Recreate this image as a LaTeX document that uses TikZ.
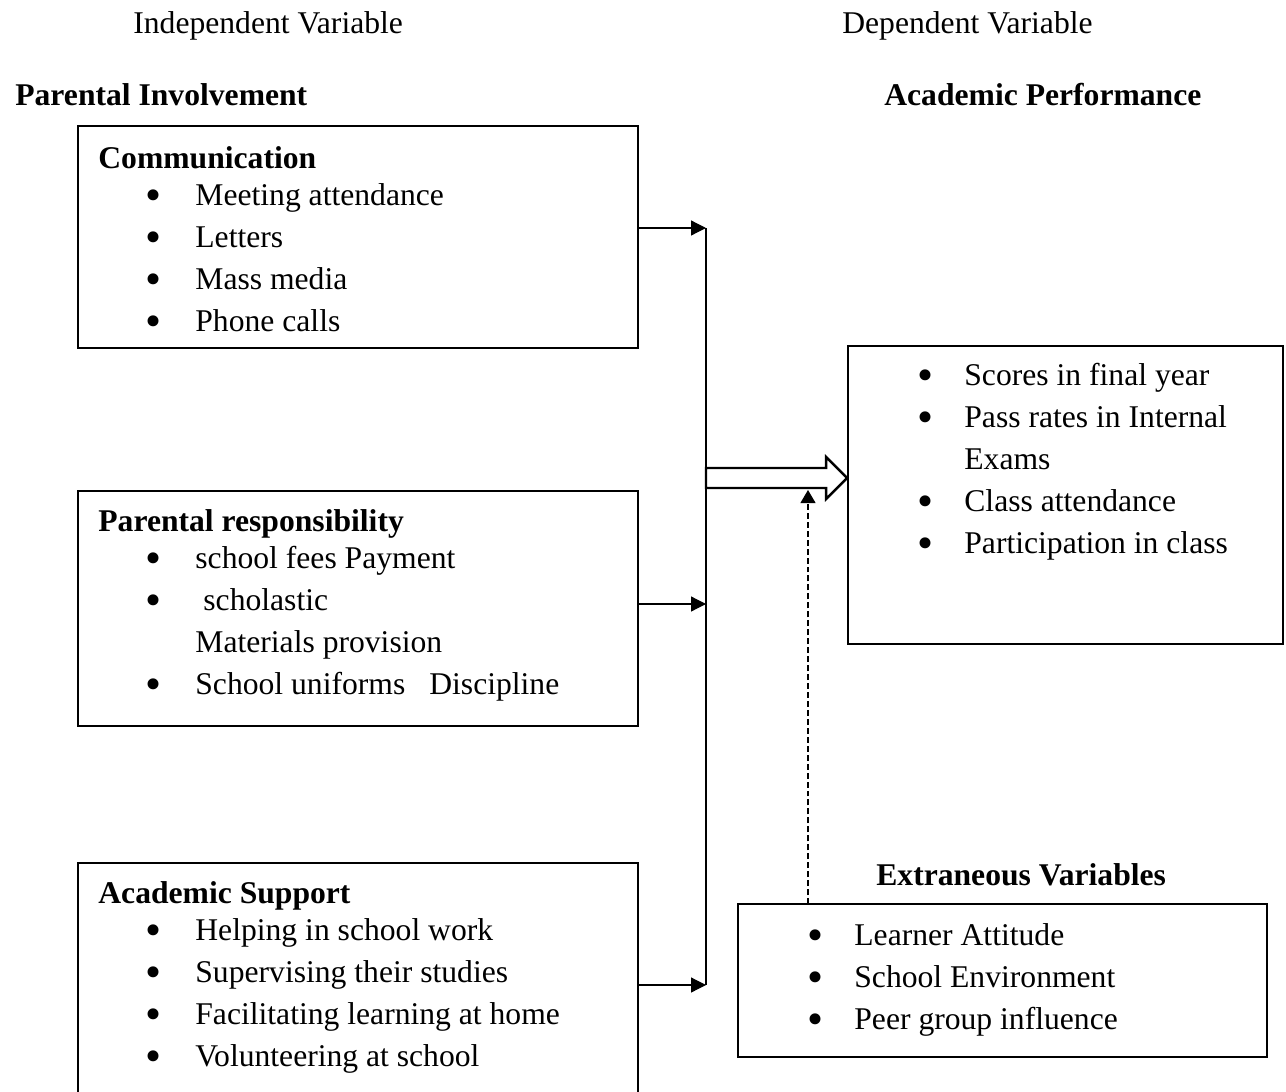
\documentclass[tikz,border=0pt]{standalone}
\usepackage{fontspec}
\usepackage{graphicx}
\setmainfont{Liberation Serif}
\usetikzlibrary{calc,arrows.meta}

% bullet hung to the left of the item text
\newcommand{\bul}[1][1.0cm]{\llap{\makebox[#1][l]{\raisebox{-3.2pt}{\scalebox{1.45}{•}}}}}

\begin{document}
\begin{tikzpicture}[x=0.02cm, y=-0.02cm,
    block/.style={
            draw,
            rectangle,
            line width=0.8pt,
            inner sep=0pt,
            outer sep=0pt,
            minimum width=11.2cm
        },
        entry/.style={anchor=base west, inner sep=0pt, font=\fontsize{18}{22}\selectfont},
        head/.style={entry, font=\fontsize{18}{22}\selectfont\bfseries},
        line/.style={line width=0.7pt},
        link/.style={line, -{Triangle[length=0.3cm, width=0.3cm]}},
        fat/.style={line width=1.4pt, line join=miter},
        dashlink/.style={line width=0.6pt, dash pattern=on 3.4pt off 1.7pt,
            -{Triangle[length=0.26cm, width=0.3cm]}}
]
    \useasboundingbox (0,0) rectangle (1286,1092);

    % titles
    \node [entry] (iv) at (133,33) {Independent Variable};
    \node [entry] (dv) at (842,33) {Dependent Variable};
    \node [head] (pi) at (15,105) {Parental Involvement};
    \node [head] (ap) at (884,105) {Academic Performance};

    % communication
    \node [block, minimum height=4.44cm] (comm) at (358,237) {};
    \node [head] (commh) at ($(comm.north west)+(20,42)$) {Communication};
    \foreach \txt [count=\i] in {Meeting attendance, Letters, Mass media, Phone calls}
        \node [entry] (comm\i) at ($(commh.base west)+(97,{37+42*(\i-1)})$) {\bul\txt};

    % responsibility
    \node [block, minimum height=4.7cm] (resp) at (358,608.5) {};
    \node [head] (resph) at ($(resp.north west)+(20,40)$) {Parental responsibility};
    \node [entry] (resp1) at ($(resph.base west)+(97,37)$) {\bul school fees Payment};
    \node [entry] (resp2) at ($(resph.base west)+(97,79)$) {\bul\hspace{0.16cm}scholastic};
    \node [entry] (resp3) at ($(resph.base west)+(97,121)$) {Materials provision};
    \node [entry] (resp4) at ($(resph.base west)+(97,163)$) {\bul School uniforms\hspace{0.48cm}Discipline};

    % academic support
    \node [block, minimum height=4.74cm] (supp) at (358,981.5) {};
    \node [head] (supph) at ($(supp.north west)+(20,40)$) {Academic Support};
    \foreach \txt [count=\i] in {Helping in school work, Supervising their studies,
            Facilitating learning at home, Volunteering at school}
        \node [entry] (supp\i) at ($(supph.base west)+(97,{37+42*(\i-1)})$) {\bul\txt};

    % academic performance
    \node [block, minimum width=8.7cm, minimum height=5.96cm] (res) at (1065.5,495) {};
    \node [entry] (res1) at ($(res.north west)+(116,39)$) {\bul[0.94cm]Scores in final year};
    \node [entry] (res2) at ($(res.north west)+(116,81)$) {\bul[0.94cm]Pass rates in Internal};
    \node [entry] (res3) at ($(res.north west)+(116,123)$) {Exams};
    \node [entry] (res4) at ($(res.north west)+(116,165)$) {\bul[0.94cm]Class attendance};
    \node [entry] (res5) at ($(res.north west)+(116,207)$) {\bul[0.94cm]Participation in class};

    % extraneous variables
    \node [head] (exh) at (876,885) {Extraneous Variables};
    \node [block, minimum width=10.58cm, minimum height=3.06cm] (extra) at (1002.5,980.5) {};
    \foreach \txt [count=\i] in {Learner Attitude, School Environment, Peer group influence}
        \node [entry] (extra\i) at ($(extra.north west)+(116,{41+42*(\i-1)})$) {\bul[0.94cm]\txt};

    % joining line
    \coordinate (bt) at (706,228);
    \coordinate (bm) at (706,604);
    \coordinate (bb) at (706,985);
    \draw [line] (bt) -- (bb);
    \draw [link] (comm.east |- bt) -- (bt);
    \draw [link] (resp.east |- bm) -- (bm);
    \draw [link] (supp.east |- bb) -- (bb);

    % block arrow into the result
    \coordinate (hs) at (706,478);
    \coordinate (ht) at ($(res.west |- hs)+(-1,0)$);
    \draw [fat] ($(hs)+(0,-10)$) -- ($(ht)+(-21,-10)$) -- ++(0,-11) -- (ht)
        -- ($(ht)+(-21,21)$) -- ++(0,-11) -- ($(hs)+(0,10)$) -- cycle;

    % extraneous influence
    \coordinate (dt) at (808,490);
    \draw [dashlink] (extra.north -| dt) -- (dt);
\end{tikzpicture}
\end{document}
